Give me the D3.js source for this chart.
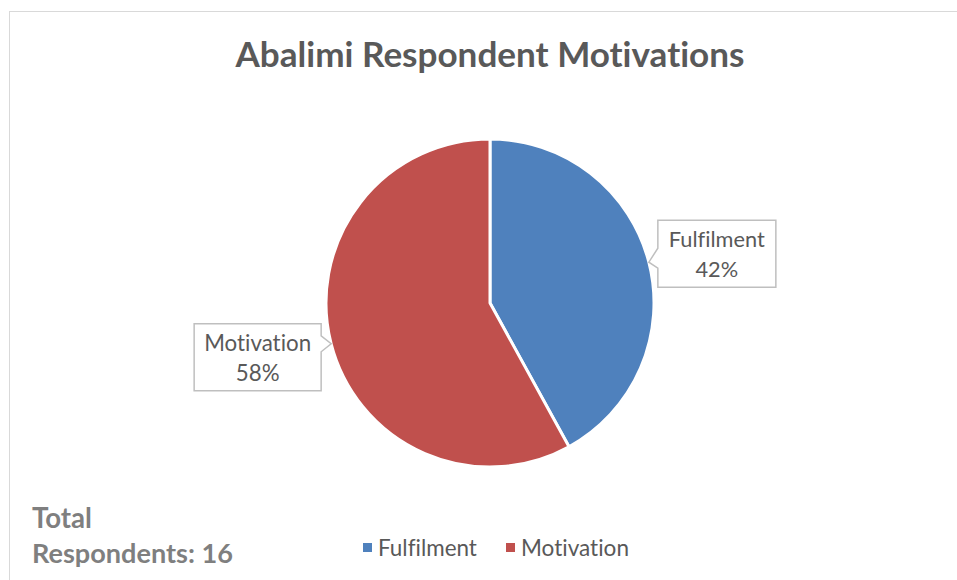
<!DOCTYPE html>
<html>
<head>
<meta charset="utf-8">
<script src="https://cdn.jsdelivr.net/npm/d3@7"></script>
<style>
  body { margin: 0; background: #fff; }
  text { font-family: Lato, "Open Sans", sans-serif; font-variant-ligatures: none; }
</style>
</head>
<body>
<svg id="svg" width="957" height="580"></svg>
<script>
// chart data
const categories = ["Fulfilment", "Motivation"];
const shares = [42, 58];          // percent
const colors = ["#4F81BD", "#C0504D"];
const titleText = "Abalimi Respondent Motivations";
const noteLines = ["Total", "Respondents: 16"];

const svg = d3.select("#svg");

// shrink or grow a text's font-size so it spans the width
function fitWidth(sel, target) {
    const fs = parseFloat(sel.attr("font-size"));
    const w = sel.node().getComputedTextLength();
    sel.attr("font-size", fs * target / w);
}

// outer chart border (runs off the right and bottom of the picture)
svg.append("rect")
    .attr("x", 9.5).attr("y", 11.5)
    .attr("width", 1000).attr("height", 1000)
    .attr("fill", "none")
    .attr("stroke", "#d9d9d9");

// title
const title = svg.append("text")
    .attr("x", 490).attr("y", 67)
    .attr("text-anchor", "middle")
    .attr("font-size", 30).attr("font-weight", "bold")
    .attr("fill", "#595959")
    .text(titleText);
fitWidth(title, 509);

// pie
const cx = 490, cy = 303, r = 164;
const pie = d3.pie().sort(null).value(d => d.v);
const arcs = pie(categories.map((c, i) => ({ c: c, v: shares[i], col: colors[i] })));
const arc = d3.arc().innerRadius(0).outerRadius(r);

const g = svg.append("g").attr("transform", `translate(${cx},${cy})`);
g.selectAll("path").data(arcs).enter().append("path")
    .attr("d", arc)
    .attr("fill", d => d.data.col)
    .attr("stroke", "#fff")
    .attr("stroke-width", 3)
    .attr("stroke-linejoin", "round");

// callout labels: pointer tip sits on the rim at the slice's middle angle
const boxH = 67;
arcs.forEach((d, i) => {
    const a = (d.startAngle + d.endAngle) / 2;
    const tx = cx + r * Math.sin(a), ty = cy - r * Math.cos(a);
    const right = Math.sin(a) > 0;
    const gl = svg.append("g");
    const t1 = gl.append("text").attr("font-size", 20).attr("fill", "#595959")
        .attr("text-anchor", "middle").text(d.data.c);
    fitWidth(t1, right ? 96 : 107);
    const t2 = gl.append("text").attr("font-size", t1.attr("font-size")).attr("fill", "#595959")
        .attr("text-anchor", "middle").text(d3.format(".0f")(d.data.v) + "%");
    const boxW = right ? 118 : 127;
    const bx = right ? tx + 9 : tx - 10 - boxW;
    const by = right ? ty - 42 : ty - 20;
    // pointer notch positions on the box edge
    const n1 = right ? by + 28 : by + 12, n2 = right ? by + 48 : by + 28;
    let pts;
    if (right) {
        pts = [[bx, by], [bx + boxW, by], [bx + boxW, by + boxH], [bx, by + boxH],
               [bx, n2], [tx, ty], [bx, n1]];
    } else {
        pts = [[bx, by], [bx + boxW, by], [bx + boxW, n1], [tx, ty], [bx + boxW, n2],
               [bx + boxW, by + boxH], [bx, by + boxH]];
    }
    gl.insert("path", "text")
        .attr("d", d3.line()(pts) + "Z")
        .attr("fill", "#fff")
        .attr("stroke", "#bfbfbf")
        .attr("stroke-width", 1.5);
    t1.attr("x", bx + boxW / 2).attr("y", by + 27);
    t2.attr("x", bx + boxW / 2).attr("y", by + 57);
});

// legend
const legX = [363, 506];
const leg = svg.selectAll("g.leg").data(categories).enter().append("g").attr("class", "leg")
    .attr("transform", (d, i) => `translate(${legX[i]},543)`);
leg.append("rect").attr("width", 9).attr("height", 9).attr("fill", (d, i) => colors[i]);
leg.append("text").attr("x", 15).attr("y", 13)
    .attr("font-size", 20).attr("fill", "#595959")
    .text(d => d)
    .each(function (d, i) { fitWidth(d3.select(this), i === 0 ? 99 : 108); });

// note, bottom left
svg.selectAll("text.note").data(noteLines).enter().append("text").attr("class", "note")
    .attr("x", 32).attr("y", (d, i) => 528 + i * 35)
    .attr("font-size", 22).attr("font-weight", "bold")
    .attr("fill", "#7f7f7f")
    .text(d => d)
    .each(function (d, i) { fitWidth(d3.select(this), i === 0 ? 60 : 201); });
</script>
</body>
</html>
